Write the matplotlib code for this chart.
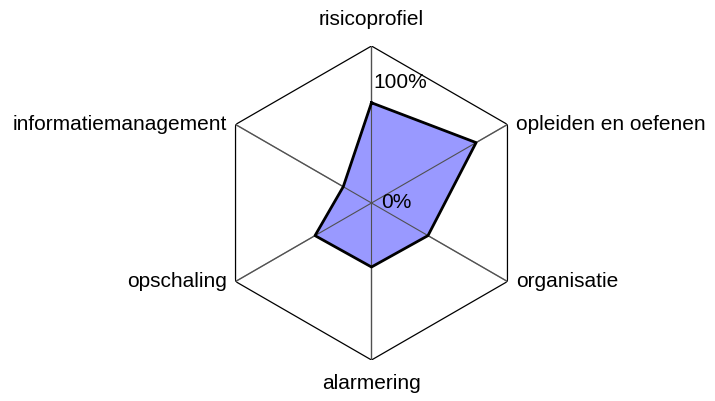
import numpy as np
import matplotlib
matplotlib.use('Agg')
import matplotlib.pyplot as plt

# Data
categories = ['risicoprofiel', 'opleiden en oefenen', 'organisatie',
              'alarmering', 'opschaling', 'informatiemanagement']
values = [0.83, 1.00, 0.54, 0.53, 0.54, 0.27]
scale_ticks = [0.0, 1.0]
scale_labels = ['0%', '100%']
r_max = 1.3

plt.rcParams['font.family'] = ['Liberation Sans', 'DejaVu Sans']

fig = plt.figure(figsize=(7.15, 4.01), dpi=100)
# polar axes centred on the hexagon
cx, cy, rad = 371.5, 203, 157
ax = fig.add_axes([(cx - rad) / 715, (401 - cy - rad) / 401, 2 * rad / 715, 2 * rad / 401],
                  projection='polar')
ax.set_theta_offset(np.pi / 2)
ax.set_theta_direction(-1)
ax.set_ylim(0, r_max)
ax.grid(False)
ax.spines['polar'].set_visible(False)
ax.set_xticks([])
ax.set_yticks([])
ax.patch.set_alpha(0)

n = len(categories)
angles = np.linspace(0, 2 * np.pi, n, endpoint=False)

# spokes and outer hexagon
for a in angles:
    ax.plot([a, a], [0, r_max], color='#808080', lw=1, zorder=1)
ax.plot(np.append(angles, angles[0]), [r_max] * (n + 1), color='black', lw=0.9, zorder=1)

# data polygon
closed_a = np.append(angles, angles[0])
closed_v = values + values[:1]
ax.fill(closed_a, closed_v, color='#9999FF', zorder=2)
ax.plot(closed_a, closed_v, color='black', lw=2, zorder=3)
# spokes over the fill
for a in angles:
    ax.plot([a, a], [0, r_max], color='#505050', lw=0.8, zorder=2.5)

# category labels
fs = 15
offsets = [(0, 12, 'center', 'bottom'), (6.5, 0, 'left', 'center'), (6.5, 0, 'left', 'center'),
           (0, -10, 'center', 'top'), (-6.5, 0, 'right', 'center'), (-6.5, 0, 'right', 'center')]
for a, lab, (dx, dy, ha, va) in zip(angles, categories, offsets):
    ax.annotate(lab, xy=(a, r_max), xytext=(dx, dy), textcoords='offset points',
                ha=ha, va=va, fontsize=fs, annotation_clip=False)

# value scale labels
for t, lab in zip(scale_ticks, scale_labels):
    dx = 1 if t > 0 else 7
    ax.annotate(lab, xy=(0, t), xytext=(dx, 0), textcoords='offset points',
                ha='left', va='center', fontsize=fs, zorder=4)

fig.savefig('out.png', dpi=100)
